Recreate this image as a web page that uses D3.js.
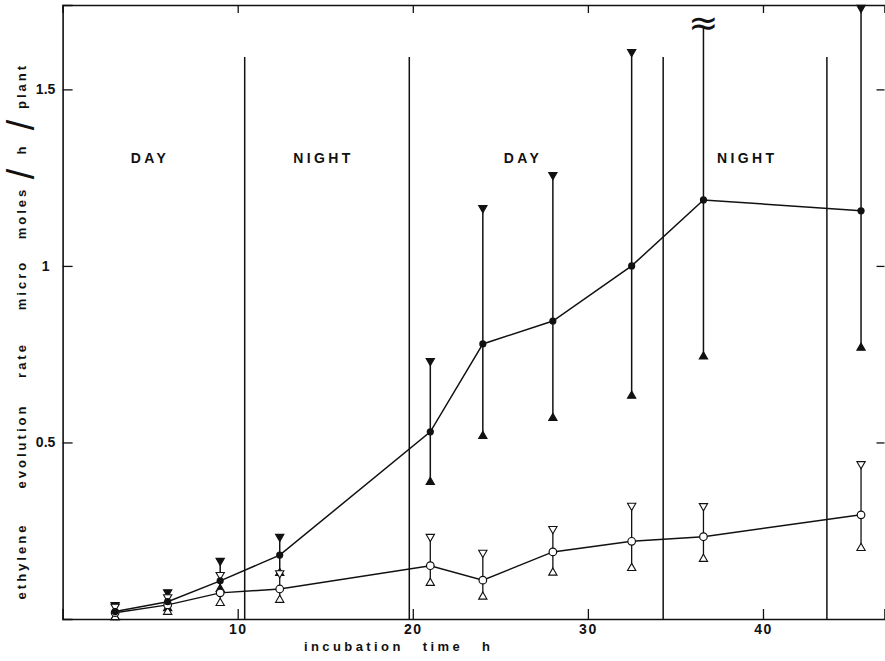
<!DOCTYPE html>
<html>
<head>
<meta charset="utf-8">
<script src="https://cdn.jsdelivr.net/npm/d3@7"></script>
<style>
  body { margin: 0; background: #fff; }
  svg { display: block; font-family: "Liberation Sans", Arial, sans-serif; }
</style>
</head>
<body>
<svg id="chart"></svg>
<script>
// incubation time (h) of each sampling
const hours = [3, 6, 9, 12.4, 21, 24, 28, 32.5, 36.6, 45.6];

// filled circles (upper curve) with bar ends
const filledMean = [0.021, 0.049, 0.108, 0.181, 0.53, 0.779, 0.844, 1.0, 1.187, 1.156];
const filledHigh = [0.04, 0.076, 0.165, 0.233, 0.731, 1.164, 1.258, 1.606, 1.68, 1.731];
const filledLow  = [0.005, 0.03, 0.085, 0.13, 0.388, 0.518, 0.569, 0.632, 0.743, 0.768];

// open circles (lower curve) with bar ends
const openMean = [0.018, 0.04, 0.074, 0.085, 0.151, 0.11, 0.19, 0.22, 0.233, 0.295];
const openHigh = [0.035, 0.062, 0.125, 0.13, 0.233, 0.188, 0.255, 0.321, 0.32, 0.439];
const openLow  = [0.005, 0.02, 0.045, 0.054, 0.102, 0.063, 0.131, 0.144, 0.17, 0.201];

// the upper bar at this hour runs off the scale
const brokenHour = 36.6;

// light / dark period boundaries (h) and period names
const boundaries = [10.4, 19.8, 34.3, 43.65];
const periods = ["DAY", "NIGHT", "DAY", "NIGHT"];
const periodHours = [4.9, 14.8, 26.2, 39.0];

const xTicks = [10, 20, 30, 40];
const yTicks = [0.5, 1, 1.5];
const yTickLabels = ["0.5", "1", "1.5"];

class Figure {
  constructor(_parent) {
    this.parent = _parent;
    this.init();
  }

  init() {
    let self = this;

    self.margin = {top: 5, right: 0.5, bottom: 42, left: 62.6};
    self.width = 885 - self.margin.left - self.margin.right;
    self.height = 661 - self.margin.top - self.margin.bottom;

    let svg = d3.select('#' + self.parent)
        .attr("width", 885)
        .attr("height", 661),
      g = svg.append("g").attr("transform", "translate(" + self.margin.left + "," + self.margin.top + ")");

    let x = d3.scaleLinear().domain([0, 46.94]).range([0, self.width]);
    let y = d3.scaleLinear().domain([0, 1.739]).range([self.height, 0]);

    let rows = hours.map((h, i) => ({
      h: h,
      fm: filledMean[i], fh: filledHigh[i], fl: filledLow[i],
      om: openMean[i], oh: openHigh[i], ol: openLow[i]
    }));

    // frame: ticks point inwards
    let bottom = g.append("g")
      .attr("transform", "translate(0," + self.height + ")")
      .call(d3.axisBottom(x).tickValues(xTicks).tickSize(-10).tickPadding(5));
    let top = g.append("g")
      .call(d3.axisTop(x).tickValues(xTicks).tickSize(-8).tickFormat(""));
    let left = g.append("g")
      .call(d3.axisLeft(y).tickValues(yTicks).tickSize(-10)
        .tickFormat((d, i) => yTickLabels[i]));
    let right = g.append("g")
      .attr("transform", "translate(" + self.width + ",0)")
      .call(d3.axisRight(y).tickValues(yTicks).tickSize(-8).tickFormat(""));
    right.select(".domain").remove();

    [bottom, top, left, right].forEach(a => {
      a.selectAll(".domain").attr("stroke", "#111").attr("stroke-width", 1.6);
      a.selectAll(".tick line").attr("stroke", "#111").attr("stroke-width", 1.3);
    });

    bottom.selectAll("text")
      .attr("font-size", 14).attr("font-weight", "bold").attr("fill", "#111")
      .attr("letter-spacing", 1.5);
    left.selectAll("text")
      .attr("font-size", 14).attr("font-weight", "bold").attr("fill", "#111")
      .attr("text-anchor", "middle").attr("x", -17);

    // day / night boundaries
    g.selectAll(".period-line")
      .data(boundaries)
      .enter().append("line")
        .attr("x1", d => x(d)).attr("x2", d => x(d))
        .attr("y1", y(0)).attr("y2", y(1.592))
        .attr("stroke", "#111").attr("stroke-width", 1.5);

    g.selectAll(".period-label")
      .data(periods)
      .enter().append("text")
        .attr("x", (d, i) => x(periodHours[i]) + 1.7)
        .attr("y", y(1.306))
        .attr("dy", "0.35em")
        .attr("text-anchor", "middle")
        .attr("font-size", 14).attr("font-weight", "bold")
        .attr("letter-spacing", 3.4).attr("fill", "#111")
        .text(d => d);

    // error bars
    g.selectAll(".bar-filled")
      .data(rows)
      .enter().append("line")
        .attr("x1", d => x(d.h)).attr("x2", d => x(d.h))
        .attr("y1", d => y(d.fl)).attr("y2", d => y(d.fh))
        .attr("stroke", "#111").attr("stroke-width", 1.5);
    g.selectAll(".bar-open")
      .data(rows)
      .enter().append("line")
        .attr("x1", d => x(d.h)).attr("x2", d => x(d.h))
        .attr("y1", d => y(d.ol)).attr("y2", d => y(d.oh))
        .attr("stroke", "#111").attr("stroke-width", 1.3);

    // the two curves
    let lineFilled = d3.line().x(d => x(d.h)).y(d => y(d.fm));
    let lineOpen = d3.line().x(d => x(d.h)).y(d => y(d.om));
    g.append("path").datum(rows).attr("d", lineFilled)
      .attr("fill", "none").attr("stroke", "#111").attr("stroke-width", 1.5);
    g.append("path").datum(rows).attr("d", lineOpen)
      .attr("fill", "none").attr("stroke", "#111").attr("stroke-width", 1.5);

    // bar end triangles
    let tri = d3.symbol().type(d3.symbolTriangle).size(30);
    function ends(data, key, rot, fill) {
      g.selectAll(null)
        .data(data)
        .enter().append("path")
          .attr("d", tri)
          .attr("transform", d => "translate(" + x(d.h) + "," + y(d[key]) + ") rotate(" + rot + ")")
          .attr("fill", fill)
          .attr("stroke", "#111").attr("stroke-width", 1.1);
    }
    ends(rows.filter(d => d.h !== brokenHour), "fh", 180, "#111");
    ends(rows, "fl", 0, "#111");
    ends(rows, "oh", 180, "#fff");
    ends(rows, "ol", 0, "#fff");

    // off-scale mark
    g.append("text")
      .attr("x", x(brokenHour))
      .attr("y", y(1.68) + 9)
      .attr("text-anchor", "middle")
      .attr("font-size", 36).attr("fill", "#111")
      .attr("font-family", "DejaVu Sans")
      .text("\u2248");

    // points
    g.selectAll(".pt-open")
      .data(rows)
      .enter().append("circle")
        .attr("cx", d => x(d.h)).attr("cy", d => y(d.om)).attr("r", 3.8)
        .attr("fill", "#fff").attr("stroke", "#111").attr("stroke-width", 1.2);
    g.selectAll(".pt-filled")
      .data(rows)
      .enter().append("circle")
        .attr("cx", d => x(d.h)).attr("cy", d => y(d.fm)).attr("r", 3.6)
        .attr("fill", "#111");

    // axis titles
    svg.append("text")
      .attr("x", 304).attr("y", 651)
      .attr("font-size", 13).attr("font-weight", "bold")
      .attr("letter-spacing", 3.4).attr("word-spacing", 12).attr("fill", "#111")
      .text("incubation time h");

    let yt = svg.append("text")
      .attr("transform", "translate(26,0) rotate(-90)")
      .attr("text-anchor", "middle")
      .attr("font-size", 13).attr("font-weight", "bold")
      .attr("letter-spacing", 3).attr("fill", "#111");
    let words = [
      {t: "ethylene", at: 561},
      {t: "evolution", at: 446},
      {t: "rate", at: 360},
      {t: "micro", at: 285},
      {t: "moles", at: 213},
      {t: "/", at: 174, big: true},
      {t: "h", at: 149},
      {t: "/", at: 125, big: true},
      {t: "plant", at: 86}
    ];
    words.forEach(w => {
      let s = yt.append("tspan").attr("x", -w.at).attr("y", 0).text(w.t);
      if (w.big) s.attr("font-size", 38).attr("font-weight", "normal")
        .attr("letter-spacing", 0).attr("y", 8);
    });
  }
}

new Figure('chart');
</script>
</body>
</html>
